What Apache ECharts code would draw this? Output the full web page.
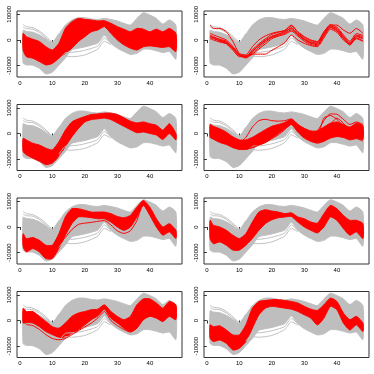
<!DOCTYPE html>
<html>
<head>
<meta charset="utf-8">
<script src="https://cdn.jsdelivr.net/npm/echarts@6/dist/echarts.min.js"></script>
<style>
  html, body { margin: 0; padding: 0; background: #fff; }
  #chart { width: 374px; height: 374px; }
</style>
</head>
<body>
<div id="chart"></div>
<script>
// x positions
const xs = [1, 2, 4, 6, 8, 10, 12, 14, 16, 18, 20, 22, 24, 26, 28, 30, 32, 34, 36, 38, 40, 42, 44, 46, 48];
const xTicks = [0, 10, 20, 30, 40];
const yTicks = [-10000, 0, 10000];

// grey: all curves (same in every panel)
const greyLow  = [-9000, -9700, -9800, -11000, -13200, -12500, -9800, -7000, -3800, -3200, -2700, -2000, -1200, 1800, -1300, -3200, -4500, -5600, -5200, -3600, -3600, -4200, -4900, -4500, -7500];
const greyHigh = [3800, 3300, 3000, 2000, 400, -1300, 2200, 5800, 7800, 8700, 8700, 8200, 8000, 8400, 8000, 7400, 6500, 5800, 8400, 10600, 9700, 8400, 6200, 7800, 5800];
const xsEarly = [1, 2, 4, 6, 8, 10, 12];
const greyTop1 = [6000, 5200, 4800, 3500, 1500, -800, 2500];
const greyTop2 = [5000, 4400, 4200, 2900, 900, -1100, 2300];
const xsMid = [12, 14, 16, 18, 20, 22, 24, 26, 28];
const greyBot1 = [-9000, -6300, -6500, -6300, -5800, -4800, -3500, -500, -1800];
const greyBot2 = [-8000, -5000, -4800, -4500, -4000, -3300, -2300, 800, -1300];

// red: cluster members
const red1Low  = [-3900, -6500, -7100, -8400, -9700, -9100, -7100, -5200, -3200, -600, 1300, 3200, 3900, 5200, 2600, 0, -1900, -3200, -3900, -2600, -2300, -2600, -2900, -2600, -4500];
const red1High = [2600, 1300, 300, -600, -2600, -3900, -1300, 4500, 7100, 8400, 8000, 7800, 7400, 7500, 6500, 5200, 4200, 3200, 4500, 4200, 3200, 4200, 3200, 4500, 2600];

const red2a = [5800, 4500, 4500, 3200, -600, -5200, -5800, -2600, 0, 1600, 2600, 3200, 3600, 5500, 3200, 1300, 0, -600, 3200, 5800, 5800, 3900, 2600, 4500, 2600];
const red2b = [2600, 2000, 1000, 0, -2500, -5500, -6500, -4500, -2000, 0, 1500, 2200, 3000, 4800, 2500, 500, -800, -1200, 2500, 5500, 4500, 1500, -1300, 1900, 1300];
const red2c = [1900, 1300, 0, -800, -3000, -6000, -6800, -5000, -2800, -800, 1000, 1800, 2600, 4000, 2000, 0, -1300, -1800, 1800, 5000, 3800, 800, -1800, 1300, 500];
const red2d = [1300, 800, -500, -1300, -3500, -6200, -6500, -3800, -1500, 500, 2200, 3000, 3800, 5800, 3000, 1000, -300, -800, 3000, 6000, 5000, 2000, -500, 2500, 1800];
const red2e = [900, 500, -200, -1000, -3200, -5800, -7000, -5500, -3500, -1500, 500, 1500, 2200, 3500, 1500, -500, -1800, -2200, 1500, 4800, 3500, 500, -2000, 800, -300];
const red2f = [500, 0, -800, -1500, -4000, -6500, -6500, -4200, -2200, -300, 1200, 2400, 3300, 4500, 2200, 300, -1000, -1500, 2200, 5300, 4200, 1200, -1000, 1600, 800];
const red2g = [1500, 1000, 300, -500, -3000, -5800, -6000, -5500, -5500, -5500, -4000, -2600, -1000, 1900, 0, -1300, -2200, -2600, 800, 4200, 3000, 0, -1600, 500, -500];

const red3Low  = [-7000, -8300, -9600, -10800, -12100, -11500, -8900, -5100, -1300, 1900, 4500, 5400, 5700, 6000, 5400, 4100, 2800, 1500, 300, 600, 0, -600, -2300, 0, -2500];
const red3High = [-1900, -2500, -3800, -4500, -5700, -6400, -3200, 1300, 4500, 5700, 6600, 7400, 7600, 7900, 7900, 7400, 6100, 4800, 4100, 4500, 3800, 3200, 1300, 3800, 0];

const red4Low  = [-1500, -2200, -3500, -4300, -5500, -6200, -6200, -5500, -4500, -3500, -1800, 0, 1800, 3500, 500, -1800, -3000, -3500, -3000, -1800, -1200, -1500, -2300, -1800, -2300];
const red4High = [3500, 2800, 1800, 500, -1300, -2500, -2500, -1500, 0, 1500, 2800, 3500, 4300, 5500, 3500, 2000, 1000, 1000, 2500, 4000, 4500, 3500, 2500, 4000, 3000];
const red4a = [3500, 2500, 1500, 0, -2000, -3500, -1500, 2500, 5000, 5500, 5000, 4800, 5000, 5700, 3500, 1500, 500, 1000, 5000, 7600, 7500, 5500, 3500, 4500, 3500];
const red4b = [-1500, -2000, -3000, -4000, -5000, -6000, -6000, -5500, -4500, -3500, -2000, -500, 1500, 3800, 1000, -1500, -3000, -3800, -3000, -1500, -1000, -1500, -2500, -2000, -3000];
const red4c = [2000, 1500, 500, -1000, -3000, -4500, -4500, -3500, -2000, -500, 1000, 2500, 3500, 5000, 2500, 500, -500, -500, 6000, 7000, 5500, 3000, 1500, 3500, 2500];
const red4d = [1000, 500, -500, -1800, -3800, -5000, -5200, -4500, -3000, -1500, 0, 1500, 2800, 4500, 1500, -800, -2200, -2800, 0, 3500, 6000, 4000, 1000, 3000, 2000];

const red5Low  = [-7700, -9700, -8400, -9700, -12300, -12300, -8400, -3200, 1300, 3900, 3900, 3600, 3200, 3200, 1900, 0, -1300, 0, 3900, 8400, 4500, 0, -3200, -1900, -4500];
const red5High = [-2600, -4500, -4100, -5200, -7100, -7100, -2600, 3900, 7100, 7100, 6500, 5800, 5800, 5800, 5200, 4100, 3600, 4500, 7700, 10300, 7700, 3200, 0, 1300, -1300];
const red5a = [-5000, -7000, -6500, -7500, -10000, -10000, -7000, -4000, -1000, 1000, 1500, 1800, 2200, 2500, 800, -1500, -2500, -1500, 2500, 9000, 6000, 1500, -1500, 0, -2500];

const red6Low  = [-4500, -6500, -5800, -7100, -9000, -9000, -7100, -4500, -1300, 1300, 2800, 3600, 3900, 4100, 1900, 0, -1300, -2300, 0, 3900, 2600, -600, -3200, -1900, -4500];
const red6High = [2600, 700, 0, -1300, -3200, -4500, -2600, 1900, 5800, 6700, 6200, 5800, 5200, 5500, 3900, 3200, 1900, 1500, 5200, 8400, 7100, 4500, 2600, 2600, 1300];

const red7Low  = [-1000, -800, -1000, -2400, -4300, -5500, -6500, -6500, -5000, -3700, -1700, 300, 1800, 4400, 900, -1000, -3000, -4300, -3000, 300, 1600, 900, -400, 1600, 300];
const red7High = [4800, 3500, 3500, 1600, -400, -2400, -3000, -1000, 1600, 2900, 3500, 4200, 4400, 6100, 3500, 1600, 300, 1600, 6100, 8400, 8400, 6800, 4800, 7400, 6100];
const red7a = [0, -1500, -2000, -3500, -5500, -7000, -7500, -7000, -5500, -4000, -2500, -1000, 1000, 3500, 0, -2000, -3500, -4500, -3000, 1500, 3000, 2000, 500, 2500, 1000];

const red8Low  = [-6900, -8200, -7600, -8900, -11500, -10800, -8200, -3000, 2200, 4800, 5500, 5200, 4800, 4400, 3500, 2200, 900, -1700, 900, 5500, 4200, -1000, -3700, -1700, -4300];
const red8High = [-1700, -2400, -2100, -3700, -5600, -5600, -1700, 4800, 7400, 7800, 8100, 8100, 7800, 7400, 6800, 5500, 4400, 3900, 6100, 8700, 7400, 2900, 300, 1600, -1000];

const panels = [
  { low: red1Low, high: red1High, lines: [] },
  { low: null, high: null, lines: [red2a, red2b, red2c, red2d, red2e, red2f, red2g] },
  { low: red3Low, high: red3High, lines: [] },
  { low: red4Low, high: red4High, lines: [red4a, red4b, red4c, red4d] },
  { low: red5Low, high: red5High, lines: [red5a] },
  { low: red6Low, high: red6High, lines: [] },
  { low: red7Low, high: red7High, lines: [red7a] },
  { low: red8Low, high: red8High, lines: [] }
];

const GREY = '#bebebe';
const RED = '#ff0000';
const colLeft = [17, 204];
const rowTop = [11, 104.5, 198, 291.5];

function pairs(xArr, yArr) {
  return xArr.map((x, k) => [x, yArr[k]]);
}

let chart = echarts.init(document.getElementById('chart'));
let grid = [], xAxis = [], yAxis = [], series = [];

function line(i, xArr, yArr, color) {
  series.push({
    type: 'line', xAxisIndex: i, yAxisIndex: i, data: pairs(xArr, yArr),
    symbol: 'none', smooth: 0.2, silent: true,
    lineStyle: { color: color, width: 1 }
  });
}

// filled region between a lower and an upper curve
function band(i, low, high, color) {
  const ring = pairs(xs, high).concat(pairs(xs, low).reverse());
  series.push({
    type: 'custom', xAxisIndex: i, yAxisIndex: i, silent: true, clip: true,
    data: ring, encode: { x: 0, y: 1 },
    renderItem: function (params, api) {
      if (params.dataIndex !== 0) return null;
      return {
        type: 'polygon',
        shape: { points: ring.map(d => api.coord(d)), smooth: 0.2 },
        style: { fill: color, stroke: color, lineWidth: 1 }
      };
    }
  });
}

panels.forEach((p, i) => {
  grid.push({
    left: colLeft[i % 2], top: rowTop[Math.floor(i / 2)], width: 165, height: 66,
    show: true, borderColor: '#333', borderWidth: 1, backgroundColor: 'transparent'
  });
  xAxis.push({
    gridIndex: i, type: 'value', min: -0.88, max: 49.88,
    axisLine: { show: false }, splitLine: { show: false },
    axisTick: { show: true, customValues: xTicks, length: 3, lineStyle: { color: '#333' } },
    axisLabel: { customValues: xTicks, fontSize: 6, color: '#000', margin: 3, fontFamily: 'Liberation Sans' }
  });
  yAxis.push({
    gridIndex: i, type: 'value', min: -14400, max: 11280,
    axisLine: { show: false }, splitLine: { show: false },
    axisTick: { show: true, customValues: yTicks, length: 3, lineStyle: { color: '#333' } },
    axisLabel: {
      customValues: yTicks, fontSize: 6, color: '#000', margin: 5, rotate: 90,
      fontFamily: 'Liberation Sans', formatter: v => String(v)
    }
  });

  band(i, greyLow, greyHigh, GREY);
  line(i, xsEarly, greyTop1, GREY);
  line(i, xsEarly, greyTop2, GREY);
  line(i, xsMid, greyBot1, GREY);
  line(i, xsMid, greyBot2, GREY);

  if (p.low) band(i, p.low, p.high, RED);
  p.lines.forEach(l => line(i, xs, l, RED));
});

chart.setOption({
  animation: false,
  grid: grid,
  xAxis: xAxis,
  yAxis: yAxis,
  series: series
});
</script>
</body>
</html>
